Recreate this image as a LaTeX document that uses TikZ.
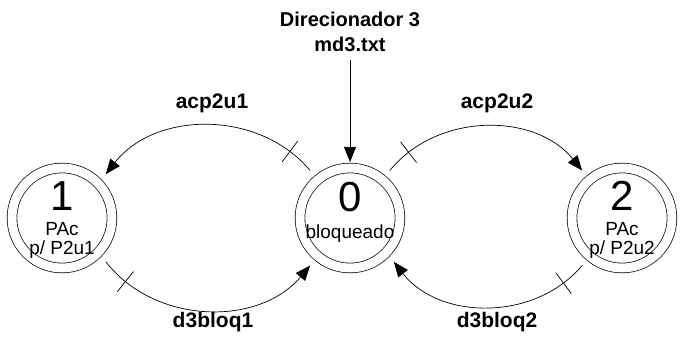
\documentclass[tikz,border=0pt]{standalone}
\usepackage{fontspec}
\setmainfont{Liberation Sans}
\usetikzlibrary{arrows.meta,calc,decorations.markings}
\begin{document}
\begin{tikzpicture}[x=1pt,y=1pt,
  statenode/.style={circle, draw, line width=0.7pt, minimum size=100pt, inner sep=0pt, double, double distance=9pt},
  bignum/.style={font=\fontsize{42}{42}\selectfont, inner sep=0pt},
  small/.style={font=\fontsize{19}{19}\selectfont, inner sep=0pt, align=center},
  lbl/.style={font=\fontsize{21}{24}\selectfont\bfseries, inner sep=0pt, align=center},
  ttl/.style={font=\fontsize{20}{25}\selectfont\bfseries, inner sep=0pt, align=center},
  conn/.style={line width=0.7pt, -{Triangle[length=15pt,width=12pt]}},
  ticked/.style={postaction={decorate,decoration={markings,mark=at position #1 with {\draw[arrows=-,line width=0.7pt] (0,-13pt)--(0,13pt);}}}}
]
\useasboundingbox (0,0) rectangle (686,340);

\node[statenode] (n1) at (62,122) {};
\node[statenode] (n0) at (350,122) {};
\node[statenode] (n2) at (622,122) {};

\node[bignum] (t1) at ($(n1)+(0,22)$) {1};
\node[small] (s1) at ($(n1)+(0,-22)$) {PAc\\p/ P2u1};
\node[bignum] (t0) at ($(n0)+(0,21)$) {0};
\node[small] (s0) at ($(n0)+(0,-16)$) {bloqueado};
\node[bignum] (t2) at ($(n2)+(0,22)$) {2};
\node[small] (s2) at ($(n2)+(0,-22)$) {PAc\\p/ P2u2};

\node[ttl] (title) at (350,308) {Direcionador 3\\md3.txt};
\coordinate (top) at (350,280);
\draw[conn] (top) -- ($(n0)+(90:56)$);

\coordinate (a1s) at ($(n0)+(130:62)$);
\coordinate (a1e) at ($(n1)+(45:62)$);
\draw[conn, ticked=0.12] (a1s) to[bend right=51] (a1e);

\coordinate (a2s) at ($(n0)+(50:62)$);
\coordinate (a2e) at ($(n2)+(130:62)$);
\draw[conn, ticked=0.12] (a2s) to[bend left=51] (a2e);

\coordinate (b1s) at ($(n1)+(-45:62)$);
\coordinate (b1e) at ($(n0)+(-130:62)$);
\draw[conn, ticked=0.12] (b1s) to[bend right=51] (b1e);

\coordinate (b2s) at ($(n2)+(-130:62)$);
\coordinate (b2e) at ($(n0)+(-45:62)$);
\draw[conn, ticked=0.12] (b2s) to[bend left=51] (b2e);

\node[lbl] (l1) at (212,237) {acp2u1};
\node[lbl] (l2) at (497,237) {acp2u2};
\node[lbl] (l3) at (213,18) {d3bloq1};
\node[lbl] (l4) at (497,18) {d3bloq2};
\end{tikzpicture}
\end{document}
